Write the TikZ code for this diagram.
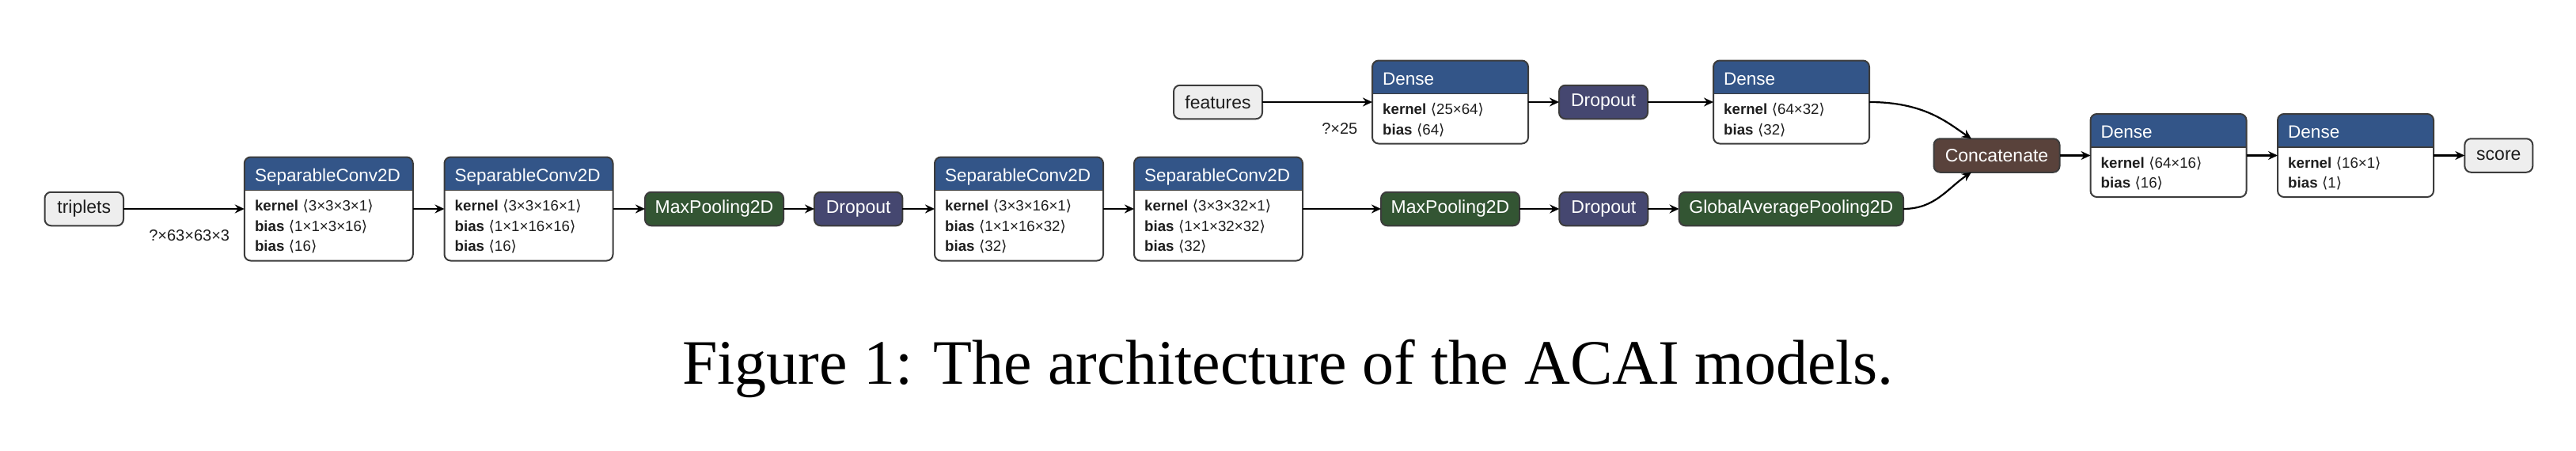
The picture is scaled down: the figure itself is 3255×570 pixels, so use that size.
\documentclass[tikz,border=0pt]{standalone}
\usepackage{fontspec}
\setmainfont{Liberation Sans}
\newfontfamily\symf{DejaVu Sans}
\newfontfamily\capf{Liberation Serif}
\usetikzlibrary{arrows.meta,calc}
\definecolor{hdrblue}{RGB}{51,85,136}
\definecolor{poolgreen}{RGB}{51,85,51}
\definecolor{dropc}{RGB}{69,71,112}
\definecolor{catc}{RGB}{89,66,59}
\definecolor{iofill}{RGB}{238,238,238}
\definecolor{bordc}{RGB}{60,60,60}
\definecolor{txtc}{RGB}{30,30,30}
\newcommand\br[1]{\hspace{5.5pt}{\symf ⟨}#1{\symf ⟩}}
\newcommand\layer[6]{%
  \node[lbox, minimum width=#4pt, minimum height=#5pt] (#1) at (#2,#3) {};
  \begin{scope}
    \clip (#1.north west) rectangle ($(#1.north east)+(0,42)$);
    \fill[hdrblue, rounded corners=8pt] (#1.north west) rectangle (#1.south east);
  \end{scope}
  \draw[bordc, line width=1.6pt] ($(#1.north west)+(0,42)$) -- ($(#1.north east)+(0,42)$);
  \draw[bordc, line width=2pt, rounded corners=8pt] (#1.north west) rectangle (#1.south east);
  \node[hdrtext] (#1-title) at ($(#1.north west)+(13,30.5)$) {#6};
}
\newcommand\lrow[4]{%
  \node[rowtext] (#1-r#2) at ($(#1.north west)+(13,#3)$) {#4};
}
\begin{document}
\begin{tikzpicture}[x=1pt,y=-1pt,
  edge/.style={line width=2.2pt, draw=black, -{Stealth[length=12pt,width=11pt,inset=4pt]}},
  lbox/.style={fill=white, rounded corners=8pt, inner sep=0pt, outer sep=0pt},
  snode/.style={draw=bordc, line width=2pt, rounded corners=8pt, inner sep=0pt, outer sep=0pt,
    minimum height=42.5pt, font=\fontsize{23}{27}\selectfont, text=white},
  io/.style={snode, fill=iofill, text=txtc},
  pool/.style={snode, fill=poolgreen},
  drop/.style={snode, fill=dropc},
  cat/.style={snode, fill=catc},
  hdrtext/.style={anchor=base west, inner sep=0pt, text=white, font=\fontsize{22.5}{26}\selectfont},
  rowtext/.style={anchor=base west, inner sep=0pt, text=txtc, font=\fontsize{18.7}{22}\selectfont},
  elabel/.style={anchor=base east, inner sep=0pt, text=txtc, font=\fontsize{20}{24}\selectfont},
]
\useasboundingbox (0,0) rectangle (3255,570);

% main row
\node[io, minimum width=99.5pt] (triplets) at (106.25,264) {triplets};
\layer{sc1}{415.3}{264}{213}{131}{SeparableConv2D}
\lrow{sc1}{1}{68}{\textbf{kernel}\br{3×3×3×1}}
\lrow{sc1}{2}{93.5}{\textbf{bias}\br{1×1×3×16}}
\lrow{sc1}{3}{119}{\textbf{bias}\br{16}}
\layer{sc2}{668}{264}{213}{131}{SeparableConv2D}
\lrow{sc2}{1}{68}{\textbf{kernel}\br{3×3×16×1}}
\lrow{sc2}{2}{93.5}{\textbf{bias}\br{1×1×16×16}}
\lrow{sc2}{3}{119}{\textbf{bias}\br{16}}
\node[pool, minimum width=175pt] (mp1) at (902.5,264) {MaxPooling2D};
\node[drop, minimum width=111.5pt] (do1) at (1084.7,264) {Dropout};
\layer{sc3}{1287.5}{264}{213}{131}{SeparableConv2D}
\lrow{sc3}{1}{68}{\textbf{kernel}\br{3×3×16×1}}
\lrow{sc3}{2}{93.5}{\textbf{bias}\br{1×1×16×32}}
\lrow{sc3}{3}{119}{\textbf{bias}\br{32}}
\layer{sc4}{1539.5}{264}{213}{131}{SeparableConv2D}
\lrow{sc4}{1}{68}{\textbf{kernel}\br{3×3×32×1}}
\lrow{sc4}{2}{93.5}{\textbf{bias}\br{1×1×32×32}}
\lrow{sc4}{3}{119}{\textbf{bias}\br{32}}
\node[pool, minimum width=175pt] (mp2) at (1832.5,264) {MaxPooling2D};
\node[drop, minimum width=112pt] (do2) at (2026.3,264) {Dropout};
\node[pool, minimum width=283.5pt] (gap) at (2263.3,264) {GlobalAveragePooling2D};

% top row
\node[io, minimum width=112pt] (features) at (1539,129) {features};
\layer{d1}{1832.5}{129}{197}{105}{Dense}
\lrow{d1}{1}{68}{\textbf{kernel}\br{25×64}}
\lrow{d1}{2}{93.5}{\textbf{bias}\br{64}}
\node[drop, minimum width=112pt] (do3) at (2026,129) {Dropout};
\layer{d2}{2263.5}{129}{197}{105}{Dense}
\lrow{d2}{1}{68}{\textbf{kernel}\br{64×32}}
\lrow{d2}{2}{93.5}{\textbf{bias}\br{32}}

% right part
\node[cat, minimum width=159pt] (cat) at (2523,196.5) {Concatenate};
\layer{d3}{2740}{196.5}{197}{105}{Dense}
\lrow{d3}{1}{68}{\textbf{kernel}\br{64×16}}
\lrow{d3}{2}{93.5}{\textbf{bias}\br{16}}
\layer{d4}{2976.5}{196.5}{197}{105}{Dense}
\lrow{d4}{1}{68}{\textbf{kernel}\br{16×1}}
\lrow{d4}{2}{93.5}{\textbf{bias}\br{1}}
\node[io, minimum width=86pt] (score) at (3157.3,196.5) {score};

% edges
\draw[edge] (triplets) -- (sc1);
\node[elabel] (lbl1) at ($(sc1.west)+(-18.5,40)$) {?×63×63×3};
\draw[edge] (sc1) -- (sc2);
\draw[edge] (sc2) -- (mp1);
\draw[edge] (mp1) -- (do1);
\draw[edge] (do1) -- (sc3);
\draw[edge] (sc3) -- (sc4);
\draw[edge] (sc4) -- (mp2);
\draw[edge] (mp2) -- (do2);
\draw[edge] (do2) -- (gap);
\draw[edge] (features) -- (d1);
\node[elabel] (lbl2) at ($(d1.west)+(-18.5,40)$) {?×25};
\draw[edge] (d1) -- (do3);
\draw[edge] (do3) -- (d2);
\draw[edge] (d2.east) .. controls +(70,0) and +(-30,-20) .. ([xshift=47.5pt]cat.north west);
\draw[edge] (gap.east) .. controls +(40,0) and +(-30,20) .. ([xshift=47.5pt]cat.south west);
\draw[edge] (cat) -- (d3);
\draw[edge] (d3) -- (d4);
\draw[edge] (d4) -- (score);

% caption
\node[anchor=base, inner sep=0pt, font=\capf\fontsize{80}{96}\selectfont] (caption) at (1627.5,485) {Figure 1: The architecture of the ACAI models.};
\end{tikzpicture}
\end{document}
